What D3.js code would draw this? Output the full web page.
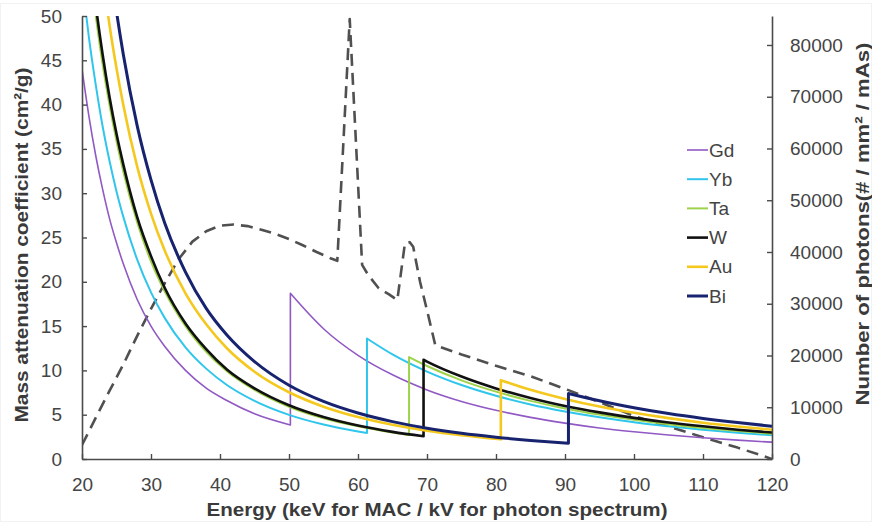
<!DOCTYPE html>
<html>
<head>
<meta charset="utf-8">
<script src="https://cdn.jsdelivr.net/npm/d3@7"></script>
<style>
  body { margin: 0; background: #fff; }
  svg { display: block; font-family: "Liberation Sans", Arial, sans-serif; }
</style>
</head>
<body>
<svg id="chart" width="872" height="525"></svg>
<script>
// mass attenuation coefficient (cm2/g), [keV, value]
// the repeated energy is the K-edge (value below, value above)
const gd = [[20,44],[21,38.7],[22,34.2],[23,30.4],[24,27.1],[25,24.4],[26,22.0],[28,18.0],[30,15.0],[32,12.7],[35,10.0],[38,8.0],[41,6.6],[45,5.1],[50.2,3.84],
            [50.2,18.7],[55,14.7],[60,11.7],[65,9.5],[70,7.8],[75,6.5],[80,5.5],[85,4.7],[90,4.05],[95,3.5],[100,3.07],[105,2.7],[110,2.4],[115,2.13],[120,1.9]];
const yb = [[20,54.0],[21,47.6],[22,42.2],[23,37.5],[24,33.6],[25,30.2],[26,27.3],[28,22.5],[30,18.8],[32,15.9],[35,12.6],[38,10.2],[41,8.35],[45,6.56],[50,4.98],[55,3.89],[60,3.1],[61.3,2.94],
            [61.3,13.6],[65,11.8],[70,9.87],[75,8.35],[80,7.14],[85,6.16],[90,5.37],[95,4.71],[100,4.16],[105,3.7],[110,3.3],[115,2.97],[120,2.68]];
const ta = [[20,64],[21,56.4],[22,50],[23,44.5],[24,39.9],[25,35.9],[26,32.4],[28,26.7],[30,22.3],[32,18.9],[35,15.0],[38,12.1],[41,9.9],[45,7.8],[50,5.9],[55,4.6],[60,3.7],[65,3.0],[67.4,2.72],
            [67.4,11.5],[70,10.5],[75,8.88],[80,7.6],[85,6.56],[90,5.71],[95,5.01],[100,4.43],[105,3.93],[110,3.51],[115,3.16],[120,2.85]];
const w  = [[20,65.6],[21,57.8],[22,51.2],[23,45.6],[24,40.8],[25,36.7],[26,33.2],[28,27.3],[30,22.9],[32,19.3],[35,15.3],[38,12.4],[41,10.1],[45,7.97],[50,6.06],[55,4.73],[60,3.77],[65,3.06],[69.5,2.57],
            [69.5,11.2],[70,11.0],[75,9.31],[80,7.97],[85,6.88],[90,5.99],[95,5.26],[100,4.64],[105,4.12],[110,3.69],[115,3.31],[120,2.99]];
const au = [[20,77.9],[21,68.8],[22,61.1],[23,54.6],[24,48.9],[25,44.1],[26,39.9],[28,33.0],[30,27.7],[32,23.5],[35,18.7],[38,15.2],[41,12.5],[45,9.85],[50,7.53],[55,5.9],[60,4.73],[65,3.86],[70,3.19],[75,2.68],[80.7,2.22],
            [80.7,8.9],[85,7.81],[90,6.78],[95,5.92],[100,5.21],[105,4.61],[110,4.1],[115,3.67],[120,3.3]];
const bi = [[20,90.3],[21,79.5],[22,70.5],[23,62.8],[24,56.2],[25,50.5],[26,45.6],[28,37.6],[30,31.5],[32,26.6],[35,21.1],[38,17.0],[41,14.0],[45,11.0],[50,8.33],[55,6.5],[60,5.19],[65,4.22],[70,3.47],[75,2.9],[80,2.46],[85,2.1],[90.5,1.78],
            [90.5,7.4],[95,6.57],[100,5.79],[105,5.13],[110,4.58],[115,4.11],[120,3.7]];

// photon spectrum (# / mm2 / mAs), [kV, value]
const photons = [[20,2700],[22,8000],[24,13200],[26,18300],[28,23800],[30,29000],[32,34000],[34,38600],[36,42000],[38,44000],
  [40,45100],[42,45300],[44,45000],[46,44300],[48,43500],[50,42500],[52,41300],[54,40000],[56,38800],[57,38300],
  [58.8,85000],[60.6,37500],[61.5,35500],[63,33000],[64.5,31800],[65.7,30700],[66.8,41700],[67.5,41900],[68,41000],
  [69,34200],[70.1,28200],[71.2,22000],[75,20200],[80,18000],[85,16000],[90.3,13400],[95,11000],[100,8300],
  [105,6300],[110,4200],[115,2200],[118,900],[120,0]];

const elements = ["Gd", "Yb", "Ta", "W", "Au", "Bi"];
const macSeries = [gd, yb, ta, w, au, bi];

const energyTicks = d3.range(20, 121, 10);
const macTicks = d3.range(0, 51, 5);
const photonTicks = d3.range(0, 80001, 10000);

const palette = {
  Gd: { color: "#9159c4", width: 1.6 },
  Yb: { color: "#30c6ec", width: 2 },
  Ta: { color: "#9ed24a", width: 2 },
  W:  { color: "#111111", width: 2.6 },
  Au: { color: "#f5c81e", width: 2.6 },
  Bi: { color: "#17236e", width: 3 }
};

const plotLeft = 82, plotRight = 772, plotTop = 16, plotBottom = 459;

const svg = d3.select("#chart");

svg.append("rect")
  .attr("x", 0.5).attr("y", 3.5).attr("width", 871).attr("height", 518)
  .attr("fill", "#fff").attr("stroke", "#f2f2f2");

const x = d3.scaleLinear().domain([20, 120]).range([plotLeft, plotRight]);
const y = d3.scaleLinear().domain([0, 50]).range([plotBottom, plotTop]);
const y2 = d3.scaleLinear().domain([0, 85600]).range([plotBottom, plotTop]);

svg.append("clipPath").attr("id", "plot-clip")
  .append("rect")
  .attr("x", plotLeft).attr("y", plotTop)
  .attr("width", plotRight - plotLeft).attr("height", plotBottom - plotTop);

const plot = svg.append("g").attr("clip-path", "url(#plot-clip)");

// photon spectrum, dashed, right axis
const specLine = d3.line().x(d => x(d[0])).y(d => y2(d[1]));
plot.append("path")
  .attr("d", specLine(photons))
  .attr("fill", "none")
  .attr("stroke", "#505050")
  .attr("stroke-width", 2.6)
  .attr("stroke-dasharray", "12,7")
  .attr("stroke-linejoin", "round");

// MAC curves, split at the K-edge
const macLine = d3.line().x(d => x(d[0])).y(d => y(d[1])).curve(d3.curveMonotoneX);
macSeries.forEach((s, i) => {
  const k = s.findIndex((d, j) => j > 0 && d[0] === s[j - 1][0]);
  const pre = s.slice(0, k), post = s.slice(k);
  const st = palette[elements[i]];
  plot.append("path")
    .attr("d", macLine(pre) + macLine(post).replace(/^M/, "L"))
    .attr("fill", "none")
    .attr("stroke", st.color)
    .attr("stroke-width", st.width)
    .attr("stroke-linejoin", "round");
});

// axes
const axisColor = "#4a4a4a";
const styleAxis = g => {
  g.select(".domain").attr("stroke", axisColor).attr("stroke-width", 1.6);
  g.selectAll(".tick line").attr("stroke", axisColor).attr("stroke-width", 1.4);
  g.selectAll(".tick text").attr("fill", "#444").style("font-size", "19px");
};

svg.append("g")
  .attr("transform", `translate(0,${plotBottom})`)
  .call(d3.axisBottom(x).tickValues(energyTicks).tickSizeInner(-5).tickSizeOuter(0).tickPadding(19))
  .call(styleAxis);

svg.append("g")
  .attr("transform", `translate(${plotLeft},0)`)
  .call(d3.axisLeft(y).tickValues(macTicks).tickSizeInner(-5).tickSizeOuter(0).tickPadding(20))
  .call(styleAxis);

svg.append("g")
  .attr("transform", `translate(${plotRight},0)`)
  .call(d3.axisRight(y2).tickValues(photonTicks).tickFormat(d3.format("d")).tickSizeInner(-5).tickSizeOuter(0).tickPadding(18))
  .call(styleAxis);

// axis titles
svg.append("text")
  .attr("x", 437).attr("y", 516)
  .attr("text-anchor", "middle")
  .attr("font-weight", "bold").attr("fill", "#3a3a3a")
  .style("font-size", "19px")
  .attr("textLength", 461).attr("lengthAdjust", "spacingAndGlyphs")
  .text("Energy (keV for MAC / kV for photon spectrum)");

svg.append("text")
  .attr("transform", "translate(28,245) rotate(-90)")
  .attr("text-anchor", "middle")
  .attr("font-weight", "bold").attr("fill", "#3a3a3a")
  .style("font-size", "19px")
  .attr("textLength", 355).attr("lengthAdjust", "spacingAndGlyphs")
  .text("Mass attenuation coefficient (cm²/g)");

svg.append("text")
  .attr("transform", "translate(869,224) rotate(-90)")
  .attr("text-anchor", "middle")
  .attr("font-weight", "bold").attr("fill", "#3a3a3a")
  .style("font-size", "19px")
  .attr("textLength", 363).attr("lengthAdjust", "spacingAndGlyphs")
  .text("Number of photons(# / mm² / mAs)");

// legend
const legend = svg.append("g").attr("transform", "translate(687,150)");
const leg = legend.selectAll("g")
  .data(elements)
  .join("g")
  .attr("transform", (d, i) => `translate(0,${i * 29.2})`);
leg.append("line")
  .attr("x1", 0).attr("x2", 21)
  .attr("stroke", d => palette[d].color)
  .attr("stroke-width", d => palette[d].width);
leg.append("text")
  .attr("x", 22).attr("y", 0)
  .attr("dy", "0.35em")
  .attr("fill", "#444")
  .style("font-size", "19px")
  .text(d => d);
</script>
</body>
</html>
